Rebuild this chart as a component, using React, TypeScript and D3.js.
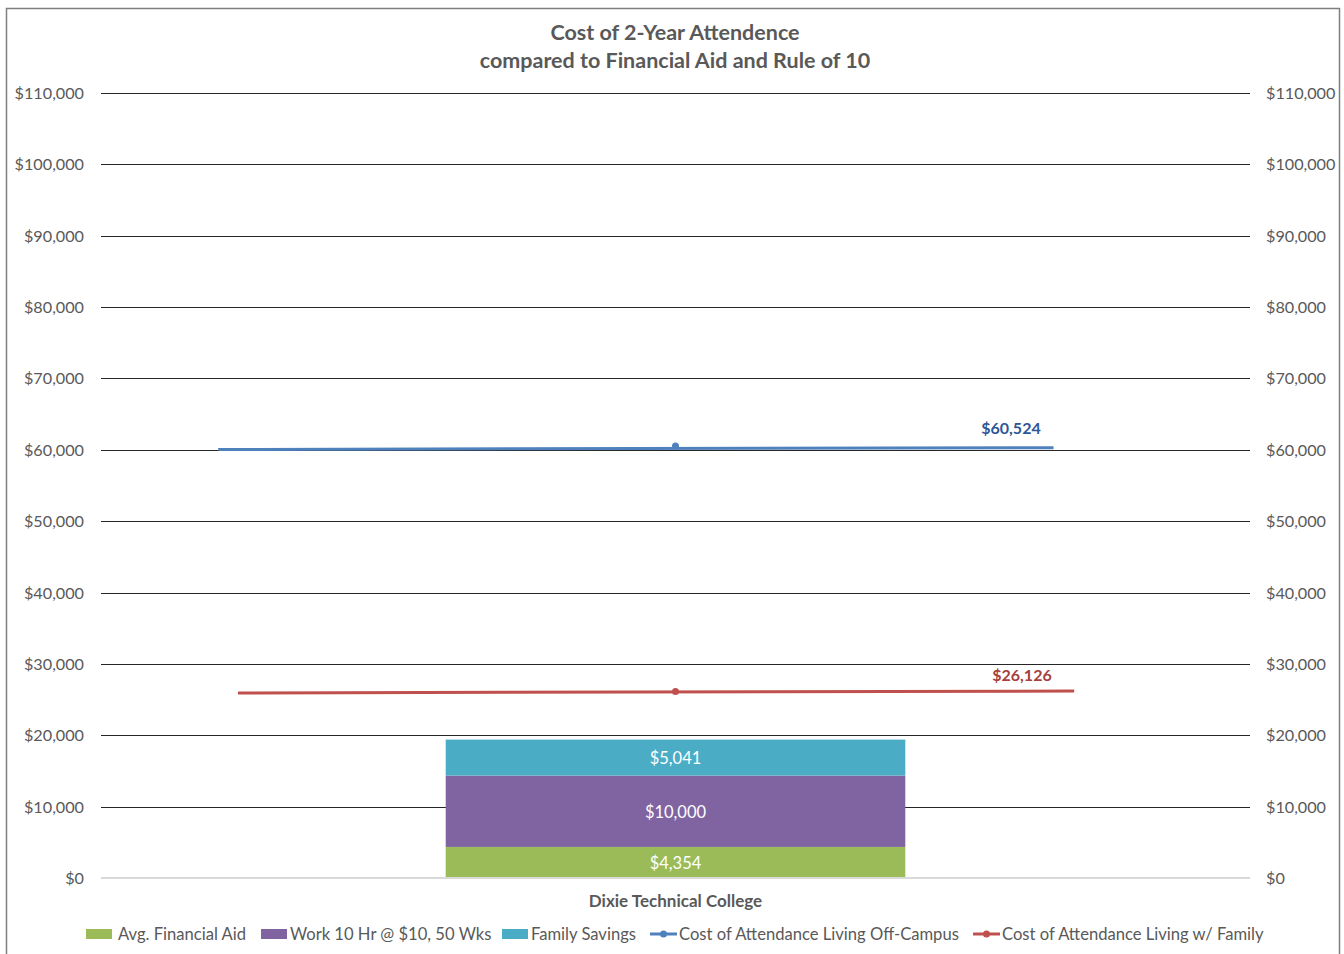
import React from "react";
import * as d3 from "d3";

const categories = ["Dixie Technical College"];
const avgFinancialAid = [4354];
const workHours = [10000];
const familySavings = [5041];
const offCampusCost = [60524];
const withFamilyCost = [26126];
// line ends (series drawn across the category)
const offCampusEnds = [60050, 60300];
const withFamilyEnds = [25930, 26200];
const yTicks = [0, 10000, 20000, 30000, 40000, 50000, 60000, 70000, 80000, 90000, 100000, 110000];

const W = 1344, H = 954;
const FONT = "Lato, 'Open Sans', sans-serif";
const GREEN = "#9bbb59", PURPLE = "#8064a2", TEAL = "#4bacc6", BLUE = "#4f81bd", RED = "#c0504d";

export default function App() {
  const x0 = 101, x1 = 1250;
  const y = d3.scaleLinear().domain([0, 110000]).range([878, 93]);
  const xb = d3.scaleBand().domain(categories).range([x0, x1]).paddingInner(0.6).paddingOuter(0.3);
  const xf = d3.scaleLinear().domain([0, 1]).range([x0, x1]);
  const fmt = (v: number) => "$" + d3.format(",")(v);

  const series = [
    { name: "Avg. Financial Aid", color: GREEN, values: avgFinancialAid },
    { name: "Work 10 Hr @ $10, 50 Wks", color: PURPLE, values: workHours },
    { name: "Family Savings", color: TEAL, values: familySavings },
  ];
  const stack = d3.stack<any>().keys(series.map((s) => s.name))(
    categories.map((c, i) => {
      const o: any = { cat: c };
      series.forEach((s) => (o[s.name] = s.values[i]));
      return o;
    })
  );

  const lines = [
    { name: "Cost of Attendance Living Off-Campus", color: BLUE, label: "#2f5597", value: offCampusCost[0], ends: offCampusEnds, span: [0.102, 0.829], lx: 1011, ly: 428 },
    { name: "Cost of Attendance Living w/ Family", color: RED, label: "#a5403d", value: withFamilyCost[0], ends: withFamilyEnds, span: [0.1192, 0.847], lx: 1022, ly: 675 },
  ];
  const lineGen = d3.line<[number, number]>().x((d) => d[0]).y((d) => d[1]);

  const legend = [
    { x: 86, tx: 118, type: "rect", color: GREEN, name: series[0].name },
    { x: 261, tx: 290, type: "rect", color: PURPLE, name: series[1].name },
    { x: 502, tx: 531, type: "rect", color: TEAL, name: series[2].name },
    { x: 650, tx: 679, type: "line", color: BLUE, name: lines[0].name },
    { x: 973, tx: 1002, type: "line", color: RED, name: lines[1].name },
  ];

  return (
    <svg width={W} height={H} style={{ position: "absolute", left: 0, top: 0, background: "#fff" }} fontFamily={FONT}>
      <rect x={6.5} y={8.5} width={1333} height={960} fill="#fff" stroke="#7f7f7f" strokeWidth={1.5} />
      <text x={675} y={40} textAnchor="middle" fontSize={21.5} fontWeight="bold" fill="#595959">Cost of 2-Year Attendence</text>
      <text x={675} y={68} textAnchor="middle" fontSize={21.5} fontWeight="bold" fill="#595959">compared to Financial Aid and Rule of 10</text>
      {yTicks.map((t) => (
        <g key={t}>
          {t > 0 && <line x1={x0} x2={x1} y1={Math.round(y(t)) + 0.5} y2={Math.round(y(t)) + 0.5} stroke="#262626" strokeWidth={1} />}
          <text x={84} y={y(t)} dy="0.37em" textAnchor="end" fontSize={16.2} fill="#595959">{fmt(t)}</text>
          <text x={1266} y={y(t)} dy="0.37em" textAnchor="start" fontSize={16.2} fill="#595959">{fmt(t)}</text>
        </g>
      ))}
      {stack.map((layer, li) => (
        <g key={li}>
          {layer.map((d, i) => (
            <g key={i}>
              <rect x={xb(categories[i])} width={xb.bandwidth()} y={y(d[1])} height={y(d[0]) - y(d[1])} fill={series[li].color} />
              <text x={xb(categories[i])! + xb.bandwidth() / 2} y={(y(d[0]) + y(d[1])) / 2} dy="0.4em" textAnchor="middle" fontSize={16.5} fill="#fff">{fmt(series[li].values[i])}</text>
            </g>
          ))}
        </g>
      ))}
      <line x1={x0} x2={x1} y1={878} y2={878} stroke="#d9d9d9" strokeWidth={2} />
      <text x={xb(categories[0])! + xb.bandwidth() / 2} y={901} dy="0.37em" textAnchor="middle" fontSize={17} fontWeight="bold" fill="#595959">{categories[0]}</text>
      {lines.map((l) => (
        <g key={l.name}>
          <path d={lineGen([[xf(l.span[0]), y(l.ends[0])], [xf(l.span[1]), y(l.ends[1])]])!} stroke={l.color} strokeWidth={3} fill="none" />
          <circle cx={xb(categories[0])! + xb.bandwidth() / 2} cy={y(l.value)} r={3.5} fill={l.color} />
          <text x={l.lx} y={l.ly} dy="0.37em" textAnchor="middle" fontSize={16} fontWeight="bold" fill={l.label}>{fmt(l.value)}</text>
        </g>
      ))}
      {legend.map((g) => (
        <g key={g.name}>
          {g.type === "rect" ? (
            <rect x={g.x} y={929} width={26} height={10} fill={g.color} />
          ) : (
            <g>
              <line x1={g.x} x2={g.x + 27} y1={934} y2={934} stroke={g.color} strokeWidth={3} />
              <circle cx={g.x + 13.5} cy={934} r={3.5} fill={g.color} />
            </g>
          )}
          <text x={g.tx} y={934} dy="0.37em" fontSize={16.6} fill="#595959">{g.name}</text>
        </g>
      ))}
    </svg>
  );
}
